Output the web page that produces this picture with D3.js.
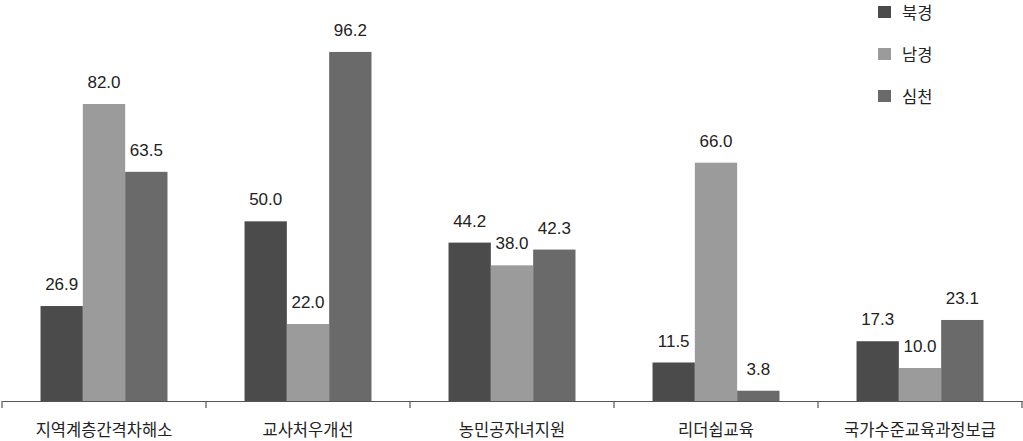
<!DOCTYPE html>
<html>
<head>
<meta charset="utf-8">
<script src="https://cdn.jsdelivr.net/npm/d3@7"></script>
<style>
  html, body { margin: 0; padding: 0; background: #fff; }
  svg { display: block; }
</style>
</head>
<body>
<svg id="chart" width="1023" height="441"></svg>
<script>
const categories = ["지역계층간격차해소", "교사처우개선", "농민공자녀지원", "리더쉽교육", "국가수준교육과정보급"];
const seriesNames = ["북경", "남경", "심천"];
const beijing  = [26.9, 50.0, 44.2, 11.5, 17.3];
const nanjing  = [82.0, 22.0, 38.0, 66.0, 10.0];
const shenzhen = [63.5, 96.2, 42.3, 3.8, 23.1];
const seriesValues = [beijing, nanjing, shenzhen];
const colors = ["#4b4b4b", "#9b9b9b", "#6a6a6a"];

const svg = d3.select("#chart");
const baseY = 401;
const x0 = d3.scaleBand().domain(categories).range([2, 1022]).paddingInner(0).paddingOuter(0);
const x1 = d3.scaleBand().domain(seriesNames).range([0, x0.bandwidth()]).paddingInner(0).paddingOuter(0.91);
const y = d3.scaleLinear().domain([1, 100]).range([baseY, 38]);

const numFont = "'Liberation Sans', Arial, 'Noto Sans CJK KR', sans-serif";
const korFont = "'Noto Sans CJK KR', 'Noto Sans', sans-serif";

const groups = svg.append("g").selectAll("g")
  .data(categories).join("g")
  .attr("transform", d => `translate(${x0(d)},0)`);

seriesNames.forEach((s, si) => {
  groups.append("rect")
    .attr("x", (d, i) => x1(s))
    .attr("y", (d, i) => y(seriesValues[si][i]))
    .attr("width", x1.bandwidth())
    .attr("height", (d, i) => baseY - y(seriesValues[si][i]))
    .attr("fill", colors[si]);
  groups.append("text")
    .attr("x", x1(s) + x1.bandwidth() / 2)
    .attr("y", (d, i) => y(seriesValues[si][i]) - 16)
    .attr("text-anchor", "middle")
    .attr("font-family", numFont)
    .attr("font-size", 17)
    .attr("fill", "#222")
    .text((d, i) => seriesValues[si][i].toFixed(1));
});

// x axis
const axis = d3.axisBottom(x0).tickSize(0).tickFormat("");
const axG = svg.append("g").attr("transform", `translate(0,${baseY})`).call(axis);
axG.select(".domain").attr("stroke", "#555").attr("stroke-width", 1.2);
// band boundary ticks
const bounds = categories.map(c => x0(c)).concat([x0(categories[categories.length - 1]) + x0.bandwidth()]);
axG.selectAll("line.bound").data(bounds).join("line")
  .attr("class", "bound")
  .attr("x1", d => d).attr("x2", d => d)
  .attr("y1", 0).attr("y2", 7)
  .attr("stroke", "#555").attr("stroke-width", 1.2);
axG.selectAll("text.cat").data(categories).join("text")
  .attr("class", "cat")
  .attr("x", d => x0(d) + x0.bandwidth() / 2)
  .attr("y", 35)
  .attr("text-anchor", "middle")
  .attr("font-family", korFont)
  .attr("font-size", 16.5)
  .attr("fill", "#222")
  .text(d => d);

// legend
const legend = svg.append("g").attr("transform", "translate(878,6)");
seriesNames.forEach((s, i) => {
  const g = legend.append("g").attr("transform", `translate(0,${i * 42})`);
  g.append("rect").attr("width", 13).attr("height", 12).attr("fill", colors[i]);
  g.append("text").attr("x", 24).attr("y", 13)
    .attr("font-family", korFont).attr("font-size", 16.5).attr("fill", "#222")
    .text(s);
});
</script>
</body>
</html>
